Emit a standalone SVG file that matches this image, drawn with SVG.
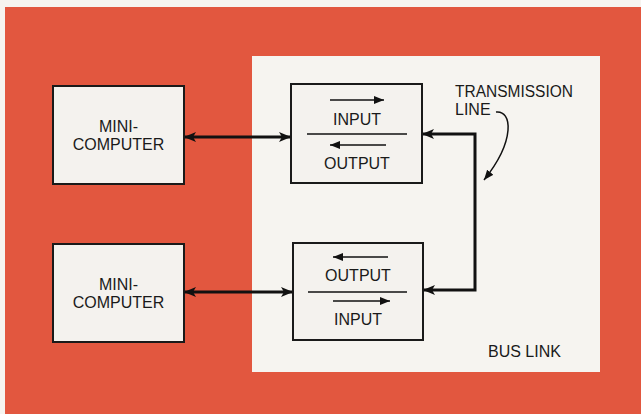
<svg xmlns="http://www.w3.org/2000/svg" width="641" height="414" viewBox="0 0 641 414">
<style>
.box{fill:#f4f2ee;stroke:#1a1a1a;stroke-width:2}
.t{font-family:"Liberation Sans",Arial,sans-serif;font-size:16px;fill:#1a1a1a;text-anchor:middle}
.tl{font-family:"Liberation Sans",Arial,sans-serif;font-size:16px;fill:#1a1a1a}
.thick{fill:none;stroke:#111;stroke-width:3}
.thin{fill:none;stroke:#111;stroke-width:1.5}
</style>
<defs>
<marker id="big" viewBox="0 0 12 10" refX="11" refY="5" markerWidth="12" markerHeight="10" markerUnits="userSpaceOnUse" orient="auto-start-reverse">
<path d="M0,0 L12,5 L0,10 L3,5 z" fill="#111"/>
</marker>
<marker id="small" viewBox="0 0 10 8" refX="10" refY="4" markerWidth="10" markerHeight="8" markerUnits="userSpaceOnUse" orient="auto">
<path d="M0,0 L10,4 L0,8 z" fill="#111"/>
</marker>
</defs>
<rect x="0" y="0" width="641" height="414" fill="#f6f4f0"/>
<rect x="5" y="7" width="636" height="407" fill="#e2573f"/>
<rect id="buslink-panel" x="252" y="56" width="348" height="316" fill="#f6f4f0"/>
<g id="mini1">
<rect class="box" x="53" y="86" width="131" height="98"/>
<text class="t" x="118.5" y="132">MINI-</text>
<text class="t" x="118.5" y="150">COMPUTER</text>
</g>
<g id="mini2">
<rect class="box" x="53" y="244" width="131" height="98"/>
<text class="t" x="118.5" y="290">MINI-</text>
<text class="t" x="118.5" y="308">COMPUTER</text>
</g>
<g id="io1">
<rect class="box" x="291" y="84" width="131" height="99"/>
<line class="thin" x1="330" y1="100" x2="384" y2="100" marker-end="url(#small)"/>
<text class="t" x="357" y="125">INPUT</text>
<line class="thin" x1="307" y1="134" x2="407" y2="134"/>
<line class="thin" x1="386" y1="145" x2="330" y2="145" marker-end="url(#small)"/>
<text class="t" x="357" y="169">OUTPUT</text>
</g>
<g id="io2">
<rect class="box" x="293" y="243" width="130" height="97"/>
<line class="thin" x1="388" y1="257" x2="333" y2="257" marker-end="url(#small)"/>
<text class="t" x="358" y="281">OUTPUT</text>
<line class="thin" x1="308" y1="292" x2="407" y2="292"/>
<line class="thin" x1="333" y1="301" x2="390" y2="301" marker-end="url(#small)"/>
<text class="t" x="358" y="325">INPUT</text>
</g>
<g id="connectors">
<line class="thick" x1="185" y1="137" x2="290" y2="137" marker-start="url(#big)" marker-end="url(#big)"/>
<line class="thick" x1="185" y1="292" x2="292" y2="292" marker-start="url(#big)" marker-end="url(#big)"/>
<path class="thick" d="M423,134 L475,134 L475,290 L424,290" marker-start="url(#big)" marker-end="url(#big)"/>
<path class="thin" d="M496,112 C512,110 516,140 484,180" marker-end="url(#small)"/>
</g>
<g id="labels">
<text class="tl" x="455" y="97" textLength="118" lengthAdjust="spacingAndGlyphs">TRANSMISSION</text>
<text class="tl" x="455" y="115">LINE</text>
<text class="tl" x="488" y="357">BUS LINK</text>
</g>
</svg>
